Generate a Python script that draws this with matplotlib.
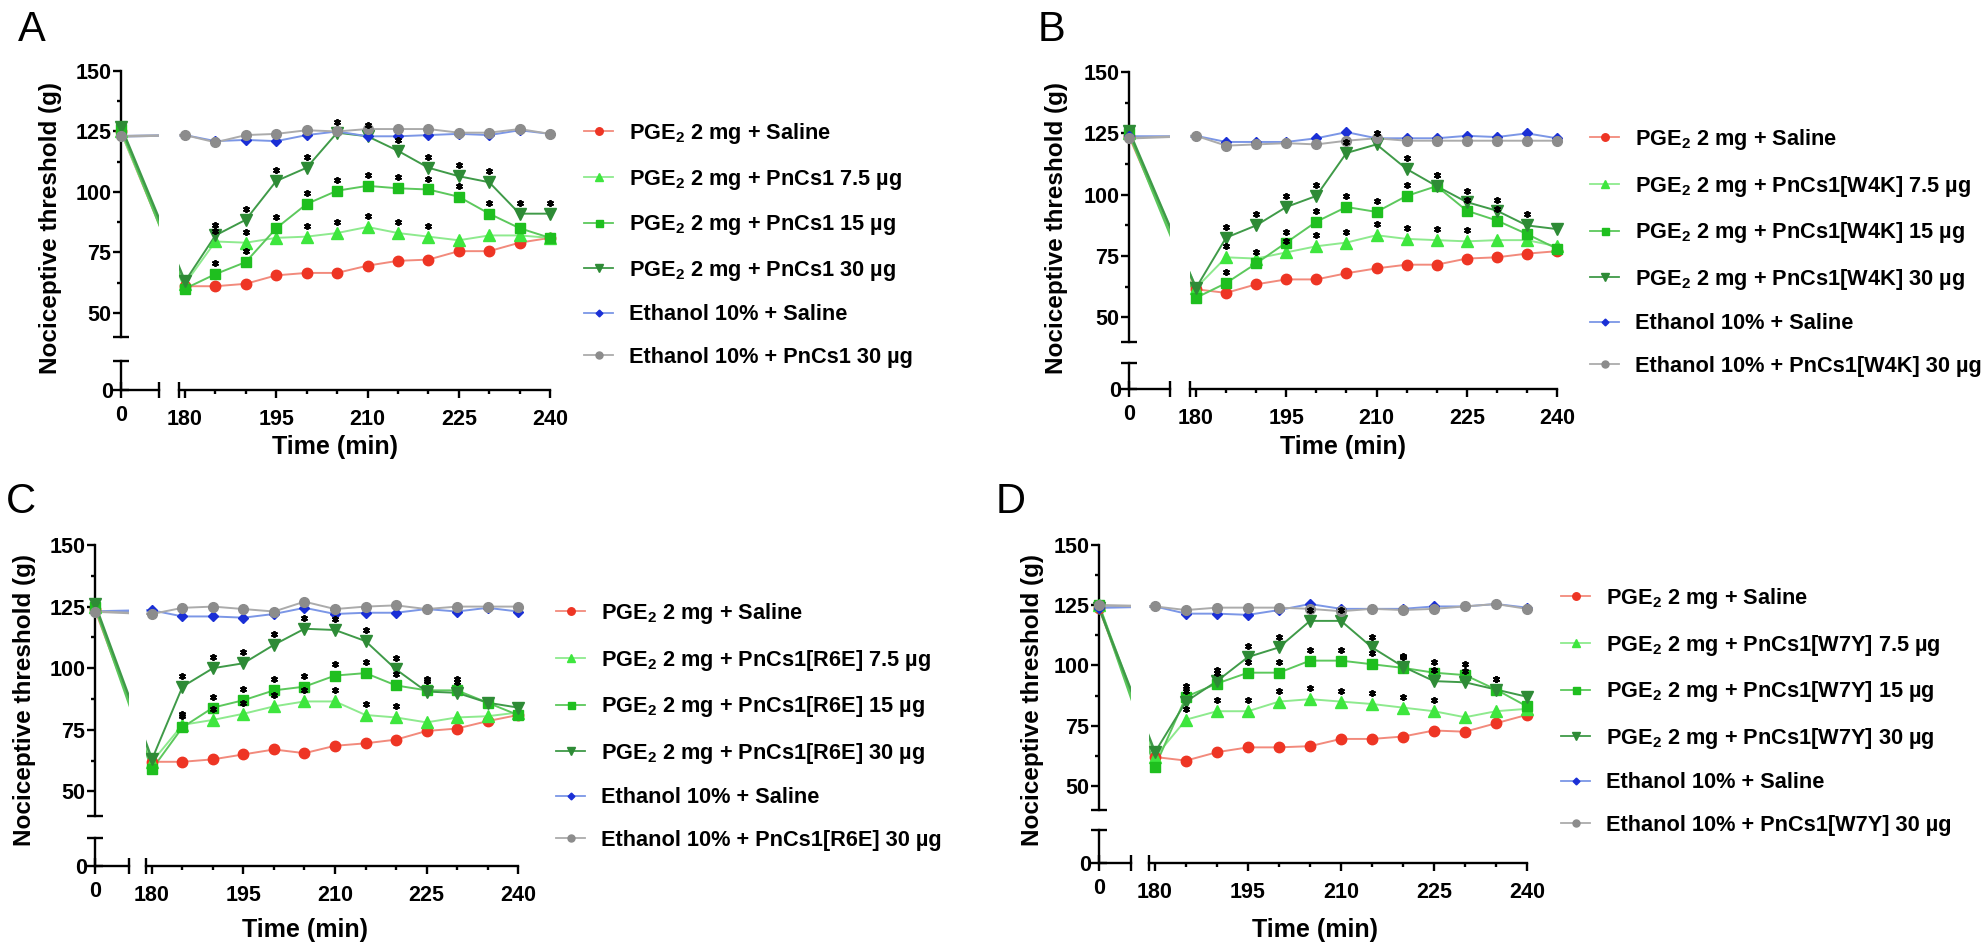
import matplotlib
matplotlib.use("Agg")
import matplotlib.pyplot as plt
from matplotlib.lines import Line2D

plt.rcParams["font.family"] = ["Liberation Sans", "DejaVu Sans"]
plt.rcParams["font.weight"] = "bold"
plt.rcParams["mathtext.fontset"] = "custom"
plt.rcParams["mathtext.rm"] = "Liberation Sans:bold"
plt.rcParams["mathtext.it"] = "Liberation Sans:bold"
plt.rcParams["mathtext.bf"] = "Liberation Sans:bold"

# ---- data -------------------------------------------------------------
TIMES = [0, 180, 185, 190, 195, 200, 205, 210, 215, 220, 225, 230, 235, 240]

PEPTIDES = {"A": "PnCs1", "B": "PnCs1[W4K]", "C": "PnCs1[R6E]", "D": "PnCs1[W7Y]"}

# panel A
sal_A = [125, 61, 61, 62, 65.5, 66.5, 66.5, 69.5, 71.5, 72, 75.5, 75.5, 79, 81]
d75_A = [125, 62, 79.5, 79, 81, 81.5, 83, 85.5, 83, 81.5, 80, 82, 82, 81]
d15_A = [126, 60, 66, 71, 85, 95, 100.5, 102.5, 101.5, 101, 98, 91, 85, 81]
d30_A = [127, 63, 82, 88.5, 104.5, 110, 124.5, 123, 117, 110, 106.5, 104, 91, 91]
eth_A = [123, 123.5, 121, 121.5, 121, 123.5, 125, 123, 123, 123.5, 124, 123.5, 125.5, 124]
ethp_A = [123, 123.5, 120.5, 123.5, 124, 125.5, 125, 126, 126, 126, 124.5, 124.5, 126, 124]

# panel B
sal_B = [124, 61.5, 60, 63.5, 65.5, 65.5, 68, 70, 71.5, 71.5, 74, 74.5, 76, 77]
d75_B = [125, 62, 74.5, 74, 76.5, 79, 80.5, 83.5, 82, 81.5, 81, 81.5, 81.5, 79]
d15_B = [125, 58, 64, 72, 80.5, 89, 95, 93, 99.5, 103.5, 93.5, 89.5, 84, 78]
d30_B = [126, 62, 82.5, 87.5, 95, 99.5, 117, 120.5, 110.5, 103.5, 97, 93.5, 87.5, 86]
eth_B = [124, 124, 121.5, 121.5, 121.5, 123, 125.5, 123, 123, 123, 124, 123.5, 125, 123]
ethp_B = [123, 124, 120, 120.5, 121, 120.5, 122, 123, 122, 122, 122, 122, 122, 122]

# panel C
sal_C = [124, 62, 62, 63, 65, 67, 65.5, 68.5, 69.5, 71, 74.5, 75.5, 78.5, 81]
d75_C = [125, 62, 77, 79, 81.5, 84.5, 86.5, 86.5, 81, 80, 78, 80, 80.5, 82]
d15_C = [125, 59, 76, 84, 87, 91, 92.5, 97, 98, 93, 91, 91, 86, 81]
d30_C = [126, 63, 92.5, 100, 102, 109.5, 116, 115.5, 111, 99.5, 90.5, 90, 86, 84]
eth_C = [123, 123.5, 121, 121, 120.5, 122, 124.5, 122, 122.5, 122.5, 124, 123, 124.5, 123]
ethp_C = [123, 122, 124.5, 125, 124, 123, 127, 124, 125, 125.5, 124, 125, 125, 125]

# panel D
sal_D = [124, 62, 60.5, 64, 66, 66, 66.5, 69.5, 69.5, 70.5, 73, 72.5, 76, 79.5]
d75_D = [125, 62, 77.5, 81, 81, 85, 86, 85, 84, 82.5, 81, 78.5, 81, 82]
d15_D = [125, 58, 87, 92.5, 97, 97, 102, 102, 100.5, 99, 97, 96, 90, 83]
d30_D = [124, 64, 85, 93.5, 103.5, 107.5, 118.5, 118.5, 107.5, 99.5, 93.5, 93, 90, 87]
eth_D = [124, 124.5, 121.5, 121.5, 121, 123, 125.5, 123.5, 123.5, 123.5, 124.5, 124.5, 125.5, 124]
ethp_D = [125, 124.5, 123, 124, 124, 124, 123.5, 122.5, 123.5, 123, 123.5, 124.5, 125.5, 123.5]

# time points marked with a significance symbol, per dose
sig75_A = [185, 190, 200, 205, 210, 215, 220]
sig15_A = [185, 190, 195, 200, 205, 210, 215, 220, 225, 230]
sig30_A = [185, 190, 195, 200, 205, 210, 215, 220, 225, 230, 235, 240]
sig75_B = [185, 195, 200, 205, 210, 215, 220, 225]
sig15_B = [185, 190, 195, 200, 205, 210, 215, 220, 225, 230]
sig30_B = [185, 190, 195, 200, 205, 210, 215, 220, 225, 230, 235]
sig75_C = [185, 190, 195, 200, 205, 210, 215, 220]
sig15_C = [185, 190, 195, 200, 205, 210, 215, 220, 225, 230]
sig30_C = [185, 190, 195, 200, 205, 210, 215, 220, 225, 230]
sig75_D = [185, 190, 195, 200, 205, 210, 215, 220, 225]
sig15_D = [185, 190, 195, 200, 205, 210, 215, 220, 225, 230, 235]
sig30_D = [185, 190, 195, 200, 205, 210, 215, 220, 225, 230, 235]

DATA = {
    "A": [sal_A, d75_A, d15_A, d30_A, eth_A, ethp_A],
    "B": [sal_B, d75_B, d15_B, d30_B, eth_B, ethp_B],
    "C": [sal_C, d75_C, d15_C, d30_C, eth_C, ethp_C],
    "D": [sal_D, d75_D, d15_D, d30_D, eth_D, ethp_D],
}
SIG = {
    "A": [None, sig75_A, sig15_A, sig30_A, None, None],
    "B": [None, sig75_B, sig15_B, sig30_B, None, None],
    "C": [None, sig75_C, sig15_C, sig30_C, None, None],
    "D": [None, sig75_D, sig15_D, sig30_D, None, None],
}

# ---- styles -----------------------------------------------------------
# (marker colour, line colour, marker, marker size)
STYLES = [
    ("#ee3524", "#f28a7c", "o", 7.5),
    ("#3ee63e", "#8eea8e", "^", 8.0),
    ("#1fbf1f", "#5cc85c", "s", 7.0),
    ("#2e8b36", "#3f9a48", "v", 8.0),
    ("#1a2fd6", "#7b96e6", "D", 4.8),
    ("#8c8c8c", "#ababab", "o", 7.0),
]


def labels_for(pep):
    return [
        "PGE$_{2}$ 2 mg + Saline",
        f"PGE$_{{2}}$ 2 mg + {pep} 7.5 µg",
        f"PGE$_{{2}}$ 2 mg + {pep} 15 µg",
        f"PGE$_{{2}}$ 2 mg + {pep} 30 µg",
        "Ethanol 10% + Saline",
        f"Ethanol 10% + {pep} 30 µg",
    ]


# ---- layout (pixels of the 1985x952 canvas) ----------------------------
W, H = 1985, 952
LAYOUT = {
    "A": dict(yax=121, seg_end=159, rstart=179, x180=185, x240=550, y150=71, y40=337, y0=390, ylow=361,
              letter=(18, 10), ylab=(50, 228), xlab=(335, 447), leg=(584, 121)),
    "B": dict(yax=1129, seg_end=1170, rstart=1190, x180=1196, x240=1557, y150=72, y40=342, y0=389, ylow=363,
              letter=(1038, 10), ylab=(1056, 228), xlab=(1343, 447), leg=(1590, 127)),
    "C": dict(yax=95, seg_end=129, rstart=146, x180=152, x240=518, y150=545, y40=816, y0=866, ylow=838,
              letter=(6, 482), ylab=(25, 700), xlab=(305, 930), leg=(556, 601)),
    "D": dict(yax=1099, seg_end=1131, rstart=1149, x180=1155, x240=1527, y150=545, y40=810, y0=863, ylow=830,
              letter=(996, 482), ylab=(1033, 700), xlab=(1315, 930), leg=(1561, 586)),
}

fig = plt.figure(figsize=(W / 100, H / 100), dpi=100)
SPINE_W = 1.7
TICK_FS = 15.5


def rect(x0, y_top, x1, y_bot):
    return [x0 / W, 1 - y_bot / H, (x1 - x0) / W, (y_bot - y_top) / H]


def clean(ax):
    ax.set_facecolor("none")
    for s in ax.spines.values():
        s.set_visible(False)
        s.set_linewidth(SPINE_W)
    ax.set_xticks([])
    ax.set_yticks([])


def draw_panel(key):
    g = LAYOUT[key]
    series = DATA[key]
    ppu = (g["y40"] - g["y150"]) / 110.0
    ppm = (g["x240"] - g["x180"]) / 60.0
    xr0 = 180 - (g["x180"] - g["rstart"]) / ppm
    ylow_top = (g["y0"] - g["ylow"]) / ppu

    ax_ul = fig.add_axes(rect(g["yax"], g["y150"], g["seg_end"], g["y40"]))
    ax_ur = fig.add_axes(rect(g["rstart"], g["y150"], g["x240"], g["y40"]))
    ax_ll = fig.add_axes(rect(g["yax"], g["ylow"], g["seg_end"], g["y0"]))
    ax_lr = fig.add_axes(rect(g["rstart"], g["ylow"], g["x240"], g["y0"]))
    for ax in (ax_ul, ax_ur, ax_ll, ax_lr):
        clean(ax)
    ax_ul.set_xlim(0, 1)
    ax_ul.set_ylim(40, 150)
    ax_ur.set_xlim(xr0, 240)
    ax_ur.set_ylim(40, 150)
    ax_ll.set_xlim(0, 1)
    ax_ll.set_ylim(0, ylow_top)
    ax_lr.set_xlim(xr0, 240)
    ax_lr.set_ylim(0, ylow_top)

    # upper-left: y axis 40..150
    ax_ul.spines["left"].set_visible(True)
    ax_ul.set_yticks([50, 75, 100, 125, 150])
    ax_ul.set_yticks([62.5, 87.5, 112.5, 137.5], minor=True)
    ax_ul.tick_params(axis="y", which="major", direction="out", length=6, width=SPINE_W,
                      labelsize=TICK_FS, pad=1)
    ax_ul.tick_params(axis="y", which="minor", direction="out", length=3, width=SPINE_W)
    ax_ul.plot([0], [40], marker="_", ms=12, mew=SPINE_W, color="k", clip_on=False)

    # lower-left: 0 on both axes
    ax_ll.spines["left"].set_visible(True)
    ax_ll.spines["bottom"].set_visible(True)
    ax_ll.set_yticks([0])
    ax_ll.set_xticks([0])
    ax_ll.tick_params(axis="y", direction="inout", length=11, width=SPINE_W, labelsize=TICK_FS, pad=0)
    ax_ll.tick_params(axis="x", direction="inout", length=11, width=SPINE_W, labelsize=TICK_FS, pad=5)
    ax_ll.plot([0], [ylow_top], marker="_", ms=12, mew=SPINE_W, color="k", clip_on=False)
    ax_ll.plot([1], [0], marker="|", ms=12, mew=SPINE_W, color="k", clip_on=False)

    # lower-right: time axis
    ax_lr.spines["bottom"].set_visible(True)
    ax_lr.set_xticks([180, 195, 210, 225, 240])
    ax_lr.set_xticks([185, 190, 200, 205, 215, 220, 230, 235], minor=True)
    ax_lr.tick_params(axis="x", which="major", direction="out", length=6, width=SPINE_W,
                      labelsize=TICK_FS, pad=8)
    ax_lr.tick_params(axis="x", which="minor", direction="out", length=3, width=SPINE_W)
    ax_lr.plot([xr0], [0], marker="|", ms=12, mew=SPINE_W, color="k", clip_on=False)

    inv = fig.transFigure.inverted()
    for vals, sig, (mc, lc, mk, ms) in zip(series, SIG[key], STYLES):
        # broken-axis connector from time 0 to 180, drawn in screen space
        p0 = inv.transform(ax_ul.transData.transform((TIMES[0], vals[0])))
        p1 = inv.transform(ax_ur.transData.transform((TIMES[1], vals[1])))
        for ax in (ax_ul, ax_ur):
            ax.plot([p0[0], p1[0]], [p0[1], p1[1]], transform=fig.transFigure, color=lc, lw=1.8, zorder=2)
        ax_ul.plot(TIMES[:1], vals[:1], linestyle="none", marker=mk, ms=ms, color=mc, mec=mc,
                   zorder=3, clip_on=False)
        ax_ur.plot(TIMES[1:], vals[1:], color=lc, lw=1.4, zorder=2)
        ax_ur.plot(TIMES[1:], vals[1:], linestyle="none", marker=mk, ms=ms, color=mc, mec=mc,
                   zorder=3, clip_on=False)
        if sig:
            yv = [vals[TIMES.index(t)] + 4.5 for t in sig]
            ax_ur.plot(sig, yv, linestyle="none", marker=(6, 2, 0), ms=5, mew=1.3, color="k",
                       zorder=4, clip_on=False)

    # texts
    lx, ly = g["letter"]
    fig.text(lx / W, 1 - ly / H, key, fontsize=30, fontweight="normal", ha="left", va="top")
    yx, yy = g["ylab"]
    fig.text(yx / W, 1 - yy / H, "Nociceptive threshold (g)", rotation=90, fontsize=17.5,
             fontweight="bold", ha="center", va="center")
    xx, xy = g["xlab"]
    fig.text(xx / W, 1 - xy / H, "Time (min)", fontsize=18, fontweight="bold", ha="center", va="center")

    handles = [Line2D([], [], color=lc, lw=1.3, marker=mk, ms=ms * 0.72, mfc=mc, mec=mc)
               for mc, lc, mk, ms in STYLES]
    gx, gy = g["leg"]
    fig.legend(handles, labels_for(PEPTIDES[key]), loc="upper left", bbox_to_anchor=(gx / W, 1 - gy / H),
               frameon=False, fontsize=15.7, handlelength=1.35, handletextpad=0.7, labelspacing=0.99,
               borderpad=0, borderaxespad=0)


for k in ("A", "B", "C", "D"):
    draw_panel(k)

fig.savefig("out.png", dpi=100, facecolor="white")
